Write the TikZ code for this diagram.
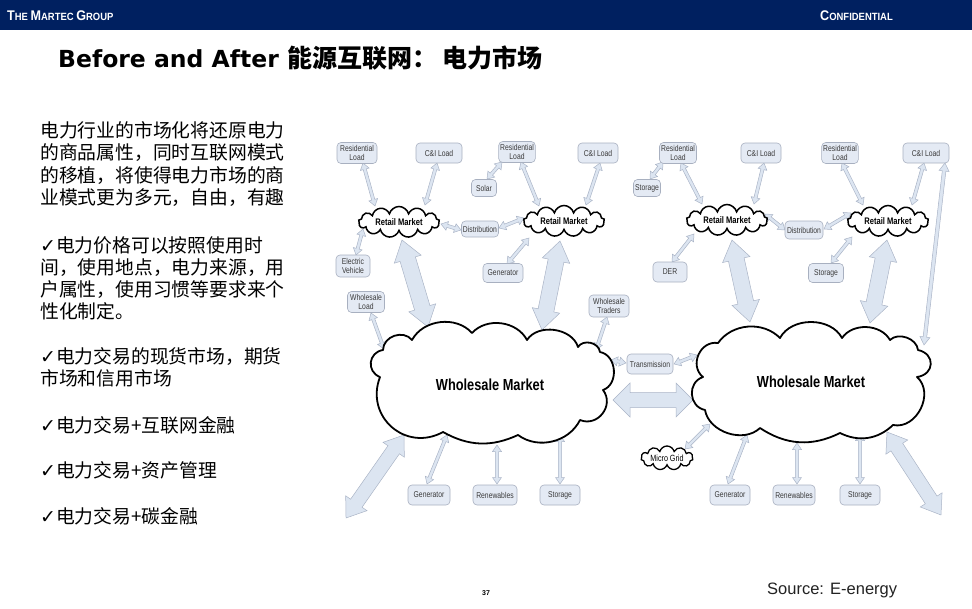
\documentclass[tikz,border=0pt]{standalone}
\usepackage{fontspec}
\setmainfont{Liberation Sans}
\newfontfamily\cjk{Noto Sans CJK SC}
\newfontfamily\narrowf[FakeStretch=0.8]{Liberation Sans}
\newfontfamily\hdrf[FakeStretch=0.9]{Liberation Sans}
\newfontfamily\dvs{DejaVu Sans}
\usetikzlibrary{shapes.symbols,calc,backgrounds}
\definecolor{navy}{HTML}{002060}
\definecolor{boxfill}{HTML}{E4EAF4}
\definecolor{boxdraw}{HTML}{A8B0C0}
\definecolor{boxtext}{HTML}{3A3A3A}
\definecolor{arrfill}{HTML}{DCE5F1}
\definecolor{arrdraw}{HTML}{AAB4C6}
\definecolor{srcgray}{HTML}{222222}
\newcommand\ck{{\dvs\fontsize{19}{19}\selectfont ✓}}
% double-headed block arrow: [style]{from}{to}{shaft half}{head half}{head length}
\newcommand\dblarrow[6][]{%
  \path (#2) coordinate (dA) (#3) coordinate (dB);
  \pgfpointdiff{\pgfpointanchor{dA}{center}}{\pgfpointanchor{dB}{center}}%
  \pgfgetlastxy\ddx\ddy
  \pgfmathsetmacro\dang{atan2(\ddy,\ddx)}%
  \pgfmathsetmacro\dlen{veclen(\ddx,\ddy)}%
  \pgfmathsetmacro\dlb{\dlen-#6}%
  \begin{scope}[shift={(dA)},rotate=\dang]
    \filldraw[arr,#1] (0pt,0pt) -- (#6pt,#5pt) -- (#6pt,#4pt) -- (\dlb pt,#4pt) -- (\dlb pt,#5pt) -- (\dlen pt,0pt) -- (\dlb pt,-#5pt) -- (\dlb pt,-#4pt) -- (#6pt,-#4pt) -- (#6pt,-#5pt) -- cycle;
  \end{scope}}
\newcommand\thin[2]{\dblarrow{#1}{#2}{1.6}{4.5}{6.5}}
\begin{document}
\begin{tikzpicture}[x=1pt,y=-1pt,
  bx/.style={draw=boxdraw, fill=boxfill, line width=0.6pt, rounded corners=4pt, inner xsep=1.5pt, inner ysep=1pt, align=center, text=boxtext, font=\narrowf\fontsize{8.5}{8.8}\selectfont, minimum height=20},
  retail/.style={cloud, cloud puffs=13, cloud puff arc=150, cloud ignores aspect, draw=black, line width=1.5pt, fill=white, minimum width=81, minimum height=31, inner sep=0pt, font=\narrowf\bfseries\fontsize{9.5}{9.5}\selectfont},
  whole/.style={rectangle, minimum width=242, minimum height=118, inner sep=0pt, font=\narrowf\bfseries\fontsize{16}{16}\selectfont},
  cloudline/.style={draw=black, fill=white, line width=1.8pt, line join=round},
  micro/.style={cloud, cloud puffs=11, cloud puff arc=150, cloud ignores aspect, draw=black, line width=1.3pt, fill=white, minimum width=52, minimum height=24, inner sep=0pt, font=\narrowf\fontsize{9}{9}\selectfont},
  arr/.style={fill=arrfill, draw=arrdraw, line width=0.5pt, line join=miter},
  bodytxt/.style={anchor=base west, inner sep=0pt, font=\cjk\fontsize{18.8}{22}\selectfont}]
\useasboundingbox (0,0) rectangle (972,608);
\fill[navy] (0,0) rectangle (972,30);
\node[anchor=west, text=white, inner sep=0pt] (hdl) at (7,16) {\hdrf\bfseries\fontsize{14}{14}\selectfont T\fontsize{10.5}{10.5}\selectfont HE \fontsize{14}{14}\selectfont M\fontsize{10.5}{10.5}\selectfont ARTEC \fontsize{14}{14}\selectfont G\fontsize{10.5}{10.5}\selectfont ROUP};
\node[anchor=west, text=white, inner sep=0pt] (hdr) at (820,16) {\hdrf\bfseries\fontsize{14}{14}\selectfont C\fontsize{10.5}{10.5}\selectfont ONFIDENTIAL};
\node[anchor=west, inner sep=0pt] (title) at (58,58) {{\dvs\bfseries\fontsize{23.5}{25}\selectfont Before and After }{\cjk\bfseries\fontsize{25}{25}\selectfont 能源互联网： 电力市场}};
% body text
\node[bodytxt] (t1) at (40,137.7) {电力行业的市场化将还原电力};
\node[bodytxt] (t2) at (40,159.8) {的商品属性，同时互联网模式};
\node[bodytxt] (t3) at (40,182) {的移植，将使得电力市场的商};
\node[bodytxt] (t4) at (40,204) {业模式更为多元，自由，有趣};
\node[bodytxt] (t5) at (40,252) {\ck 电力价格可以按照使用时};
\node[bodytxt] (t6) at (40,274) {间，使用地点，电力来源，用};
\node[bodytxt] (t7) at (40,296) {户属性，使用习惯等要求来个};
\node[bodytxt] (t8) at (40,318.5) {性化制定。};
\node[bodytxt] (t9) at (40,363.7) {\ck 电力交易的现货市场，期货};
\node[bodytxt] (t10) at (40,385.3) {市场和信用市场};
\node[bodytxt] (t11) at (40,432) {\ck 电力交易+互联网金融};
\node[bodytxt] (t12) at (40,477) {\ck 电力交易+资产管理};
\node[bodytxt] (t13) at (40,523) {\ck 电力交易+碳金融};
% diagram nodes
\node[bx, minimum width=40, minimum height=21] (resl1) at (357,153) {Residential\\Load};
\node[bx, minimum width=46] (cil1) at (439,153) {C\&I Load};
\node[bx, minimum width=36, minimum height=21] (resl2) at (517,152) {Residential\\Load};
\node[bx, minimum width=25, minimum height=17] (solar) at (484,188) {Solar};
\node[bx, minimum width=40] (cil2) at (598,153) {C\&I Load};
\node[bx, minimum width=37, minimum height=21] (resl3) at (678,153) {Residential\\Load};
\node[bx, minimum width=27, minimum height=17] (stor1) at (647,188) {Storage};
\node[bx, minimum width=40] (cil3) at (761,153) {C\&I Load};
\node[bx, minimum width=35, minimum height=21] (resl4) at (840,153) {Residential\\Load};
\node[bx, minimum width=46] (cil4) at (926,153) {C\&I Load};
\node[retail] (rm1) at (399,222) {Retail Market};
\node[retail] (rm2) at (564,221) {Retail Market};
\node[retail] (rm3) at (727,220) {Retail Market};
\node[retail] (rm4) at (888,221) {Retail Market};
\node[bx, minimum width=37, minimum height=16] (dist1) at (480,229) {Distribution};
\node[bx, minimum width=38, minimum height=18] (dist2) at (804,230) {Distribution};
\node[bx, minimum width=34, minimum height=22] (ev) at (353,266) {Electric\\Vehicle};
\node[bx, minimum width=40, minimum height=19] (gen1) at (503,273) {Generator};
\node[bx, minimum width=34, minimum height=20] (der) at (670,272) {DER};
\node[bx, minimum width=35, minimum height=19] (stor2) at (826,273) {Storage};
\node[bx, minimum width=37, minimum height=21] (wl) at (366,302) {Wholesale\\Load};
\node[bx, minimum width=40, minimum height=22] (wt) at (609,306) {Wholesale\\Traders};
% wholesale clouds (outline drawn first, then the named text node)
\coordinate (wm1c) at (490,385);
\coordinate (wm2c) at (811,382);
\begin{scope}[shift={(wm1c)}]
\filldraw[cloudline] (-110,-8) to[bend left=75, looseness=1.4] (-107,-35) to[bend left=70, looseness=1.15] (-78,-45) to[bend left=55] (-18,-52) to[bend left=55] (37,-45) to[bend left=65] (88,-38) to[bend left=70, looseness=1.1] (110,-33) to[bend left=75, looseness=1.15] (113,5) to[bend left=75, looseness=1.3] (90,35) to[bend left=50] (28,50) to[bend left=27] (-47,47) to[bend left=70, looseness=1.3] (-110,-8) -- cycle;
\end{scope}
\begin{scope}[shift={(wm2c)}]
\filldraw[cloudline] (-108,-5) to[bend left=75, looseness=1.25] (-93,-39) to[bend left=50] (-31,-44) to[bend left=62] (31,-44) to[bend left=58] (79,-42) to[bend left=65] (107,-32) to[bend left=80, looseness=1.7] (106,-5) to[bend left=75, looseness=1.15] (82,43) to[bend left=35] (29,51) to[bend left=30] (-51,46) to[bend left=62] (-106,28) to[bend left=75, looseness=1.3] (-108,-5) -- cycle;
\end{scope}
\node[whole] (wm1) at (wm1c) {Wholesale Market};
\node[whole] (wm2) at (wm2c) {Wholesale Market};
\node[bx, minimum width=46] (trans) at (650,364) {Transmission};
\node[micro] (mg) at (667,458) {Micro Grid};
\node[bx, minimum width=42] (gen2) at (429,495) {Generator};
\node[bx, minimum width=44] (ren1) at (495,495) {Renewables};
\node[bx, minimum width=40] (sto3) at (560,495) {Storage};
\node[bx, minimum width=40] (gen3) at (730,495) {Generator};
\node[bx, minimum width=42] (ren2) at (794,495) {Renewables};
\node[bx, minimum width=40] (sto4) at (860,495) {Storage};
\coordinate (bl) at (346,518);
\coordinate (br) at (941,515);
\begin{pgfonlayer}{background}
% thin connectors
\thin{[shift={(6,10)}]resl1.center}{[shift={(-24,-16)}]rm1.center}
\thin{[shift={(-2,10)}]cil1.center}{[shift={(26,-17)}]rm1.center}
\thin{[shift={(3,-11)}]ev.center}{[shift={(-36,7)}]rm1.center}
\thin{[shift={(42,2)}]rm1.center}{[shift={(-19,1)}]dist1.center}
\thin{[shift={(19,-1)}]dist1.center}{[shift={(-40,-3)}]rm2.center}
\thin{[shift={(3,-9)}]solar.center}{[shift={(-15,10)}]resl2.center}
\thin{[shift={(4,10)}]resl2.center}{[shift={(-25,-15)}]rm2.center}
\thin{[shift={(2,10)}]cil2.center}{[shift={(22,-16)}]rm2.center}
\thin{[shift={(4,-9)}]gen1.center}{[shift={(-35,17)}]rm2.center}
\thin{[shift={(3,-9)}]stor1.center}{[shift={(-15,9)}]resl3.center}
\thin{[shift={(3,10)}]resl3.center}{[shift={(-25,-16)}]rm3.center}
\thin{[shift={(3,10)}]cil3.center}{[shift={(27,-16)}]rm3.center}
\thin{[shift={(38,-6)}]rm3.center}{[shift={(-19,0)}]dist2.center}
\thin{[shift={(20,-1)}]dist2.center}{[shift={(-37,-8)}]rm4.center}
\thin{[shift={(2,10)}]resl4.center}{[shift={(-25,-16)}]rm4.center}
\thin{[shift={(-2,10)}]cil4.center}{[shift={(24,-16)}]rm4.center}
\thin{[shift={(5,-10)}]stor2.center}{[shift={(-36,16)}]rm4.center}
\thin{[shift={(2,-10)}]der.center}{[shift={(-33,14)}]rm3.center}
\dblarrow{[shift={(19,10)}]cil4.center}{[shift={(113,-37)}]wm2.center}{1.8}{5}{8}
\thin{[shift={(5,11)}]wl.center}{[shift={(-106,-36)}]wm1.center}
\thin{[shift={(-2,11)}]wt.center}{[shift={(106,-35)}]wm1.center}
\thin{[shift={(121,-25)}]wm1.center}{[shift={(-24,-1)}]trans.center}
\thin{[shift={(24,0)}]trans.center}{[shift={(-114,-27)}]wm2.center}
\thin{[shift={(-43,50)}]wm1.center}{[shift={(-2,-11)}]gen2.center}
\thin{[shift={(7,60)}]wm1.center}{[shift={(2,-11)}]ren1.center}
\thin{[shift={(70,50)}]wm1.center}{[shift={(0,-11)}]sto3.center}
\thin{[shift={(18,-9)}]mg.center}{[shift={(-101,42)}]wm2.center}
\thin{[shift={(-64,53)}]wm2.center}{[shift={(-2,-11)}]gen3.center}
\thin{[shift={(-14,61)}]wm2.center}{[shift={(3,-11)}]ren2.center}
\thin{[shift={(49,52)}]wm2.center}{[shift={(0,-11)}]sto4.center}
% big connectors
\dblarrow{[shift={(3,18)}]rm1.center}{[shift={(-62,-58)}]wm1.center}{8}{14}{20}
\dblarrow{[shift={(-4,20)}]rm2.center}{[shift={(52,-55)}]wm1.center}{8}{14}{20}
\dblarrow{[shift={(5,20)}]rm3.center}{[shift={(-61,-60)}]wm2.center}{8}{14}{20}
\dblarrow{[shift={(-1,19)}]rm4.center}{[shift={(59,-59)}]wm2.center}{8}{14}{20}
\dblarrow{[shift={(123,15)}]wm1.center}{[shift={(-118,18)}]wm2.center}{7.5}{17}{17}
\dblarrow{[shift={(-86,50)}]wm1.center}{bl}{7}{13}{18}
\dblarrow{[shift={(76,50)}]wm2.center}{br}{7}{13}{18}
\end{pgfonlayer}
% footer
\node[inner sep=0pt, font=\bfseries\fontsize{7}{7}\selectfont] (pg) at (486,593) {37};
\node[anchor=west, inner sep=0pt, text=srcgray, font=\fontsize{16.5}{16.5}\selectfont] (src) at (767,590) {Source: E-energy};
\end{tikzpicture}
\end{document}
